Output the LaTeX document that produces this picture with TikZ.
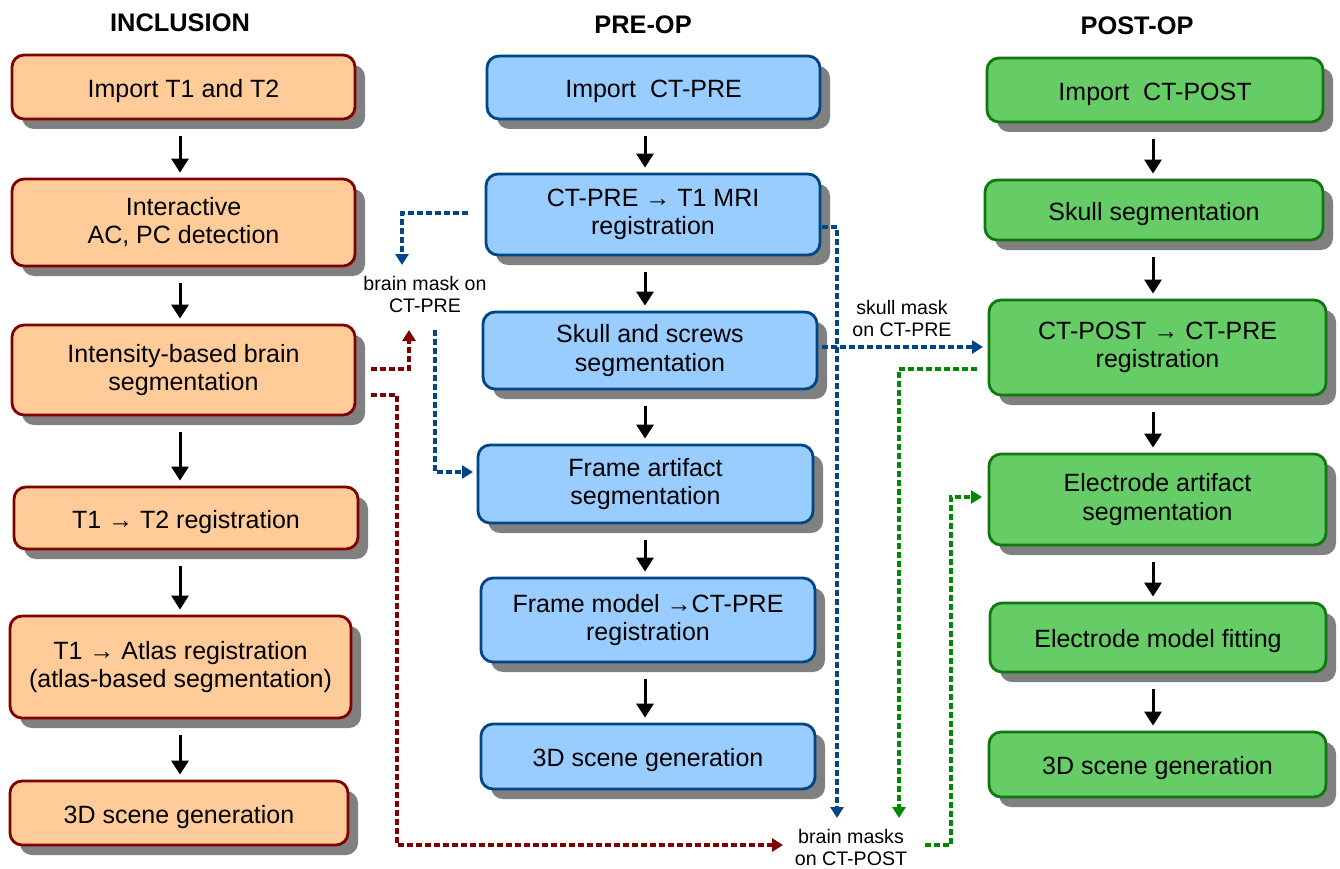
\documentclass[tikz,border=0pt]{standalone}
\usepackage{fontspec}
\setmainfont{Liberation Sans}
\usetikzlibrary{arrows.meta,shadows,calc}
\definecolor{ofill}{HTML}{FFCC99}
\definecolor{odraw}{HTML}{800000}
\definecolor{bfill}{HTML}{99CCFF}
\definecolor{bdraw}{HTML}{004586}
\definecolor{gfill}{HTML}{66CC66}
\definecolor{gdraw}{HTML}{117711}
\definecolor{gdash}{HTML}{008800}
\definecolor{shadowgray}{HTML}{808080}
\begin{document}
\begin{tikzpicture}[x=1pt,y=-1pt,
  box/.style={rounded corners=12pt,line width=2.8pt,align=center,
    font=\fontsize{25}{28.5}\selectfont,inner sep=0pt,
    execute at begin node={\rule{0pt}{25.5pt}},
    execute at end node={\rule[-4.5pt]{0pt}{4.5pt}},
    drop shadow={shadow xshift=10pt,shadow yshift=-10pt,fill=shadowgray,opacity=1}},
  obox/.style={box,fill=ofill,draw=odraw},
  bbox/.style={box,fill=bfill,draw=bdraw},
  gbox/.style={box,fill=gfill,draw=gdraw},
  head/.style={font=\fontsize{25.4}{28}\selectfont\bfseries},
  lbl/.style={align=center,font=\fontsize{19.6}{22}\selectfont,inner sep=0pt},
  flow/.style={line width=3pt,-{Triangle[width=17pt,length=14pt]},shorten <=16pt,shorten >=5pt},
  dsh/.style={line width=3.2pt,dash pattern=on 6pt off 3pt,-{Triangle[width=13pt,length=11pt]}},
]
\useasboundingbox (0,0) rectangle (1340,869);

% headers
\node[head] (hI) at (180,23) {INCLUSION};
\node[head] (hP) at (643,25) {PRE-OP};
\node[head] (hO) at (1137,26) {POST-OP};

% left column
\node[obox,minimum width=343pt,minimum height=64pt] (L1) at (183.5,87) {Import T1 and T2};
\node[obox,minimum width=343pt,minimum height=87pt] (L2) at (183.5,222.5) {Interactive\\AC, PC detection};
\node[obox,minimum width=343pt,minimum height=90pt] (L3) at (183.5,370) {Intensity-based brain\\segmentation};
\node[obox,minimum width=344pt,minimum height=62pt] (L4) at (186,518) {T1 → T2 registration};
\node[obox,minimum width=341pt,minimum height=102pt] (L5) at (180.5,667) {T1 → Atlas registration\\(atlas-based segmentation)};
\node[obox,minimum width=338pt,minimum height=64pt] (L6) at (179,813) {3D scene generation};

% middle column
\node[bbox,minimum width=333pt,minimum height=63pt] (M1) at (653.5,87.5) {Import\ \ CT-PRE};
\node[bbox,minimum width=334pt,minimum height=81pt] (M2) at (653,214.5) {CT-PRE → T1 MRI\\registration};
\node[bbox,minimum width=334pt,minimum height=77pt] (M3) at (650,350.5) {Skull and screws\\segmentation};
\node[bbox,minimum width=335pt,minimum height=78pt] (M4) at (645.5,484) {Frame artifact\\segmentation};
\node[bbox,minimum width=334pt,minimum height=84pt] (M5) at (648,620) {Frame model →CT-PRE\\registration};
\node[bbox,minimum width=334pt,minimum height=65pt] (M6) at (648,756.5) {3D scene generation};

% right column
\node[gbox,minimum width=336pt,minimum height=64pt] (R1) at (1155,90) {Import\ \ CT-POST};
\node[gbox,minimum width=338pt,minimum height=60pt] (R2) at (1154,210) {Skull segmentation};
\node[gbox,minimum width=337pt,minimum height=95pt] (R3) at (1157.5,347.5) {CT-POST → CT-PRE\\registration};
\node[gbox,minimum width=337pt,minimum height=91pt] (R4) at (1157.5,499.5) {Electrode artifact\\segmentation};
\node[gbox,minimum width=336pt,minimum height=69pt] (R5) at (1158,637.5) {Electrode model fitting};
\node[gbox,minimum width=337pt,minimum height=65pt] (R6) at (1157.5,764.5) {3D scene generation};

% labels
\node[lbl] (lA) at (425,294) {brain mask on\\CT-PRE};
\node[lbl] (lB) at (902,318) {skull mask\\on CT-PRE};
\node[lbl] (lC) at (851,847) {brain masks\\on CT-POST};

% black flow arrows
\foreach \a/\b in {L1/L2,L2/L3,L3/L4,L4/L5,L5/L6}
  \draw[flow] (\a.south -| 180,0) -- (\b.north -| 180,0);
\foreach \a/\b in {M1/M2,M2/M3,M3/M4,M4/M5,M5/M6}
  \draw[flow] (\a.south -| 645,0) -- (\b.north -| 645,0);
\foreach \a/\b in {R1/R2,R2/R3,R3/R4,R4/R5,R5/R6}
  \draw[flow] (\a.south -| 1153,0) -- (\b.north -| 1153,0);

% dashed connector ends
\coordinate (b1s) at (468,213);
\coordinate (b1e) at (402,265);
\coordinate (b2s) at (435,330);
\coordinate (b2e) at (473,472);
\coordinate (b3s) at (822,227);
\coordinate (b3e) at (837,818);
\coordinate (b4s) at (822,347);
\coordinate (b4e) at (983,347);
\coordinate (r1s) at (371,369);
\coordinate (r1e) at (409,330);
\coordinate (r2s) at (371,395);
\coordinate (r2e) at (783,845);
\coordinate (g1s) at (977,369);
\coordinate (g1e) at (899,818);
\coordinate (g2s) at (925,845);
\coordinate (g2e) at (982,497);

\draw[dsh,draw=bdraw] (b1s) -| (b1e);
\draw[dsh,draw=bdraw] (b2s) |- (b2e);
\draw[dsh,draw=bdraw] (b3s) -| (b3e);
\draw[dsh,draw=bdraw] (b4s) -- (b4e);
\draw[dsh,draw=odraw] (r1s) -| (r1e);
\draw[dsh,draw=odraw] (r2s) -- ++(26,0) |- (r2e);
\draw[dsh,draw=gdash] (g1s) -| (g1e);
\draw[dsh,draw=gdash] (g2s) -- ++(26,0) |- (g2e);
\end{tikzpicture}
\end{document}
